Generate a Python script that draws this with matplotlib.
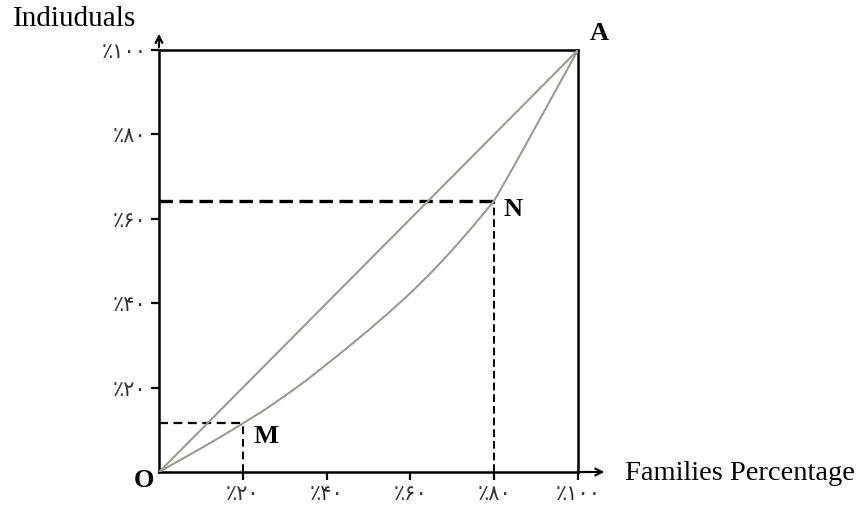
import matplotlib
matplotlib.use("Agg")
import matplotlib.pyplot as plt

# Data (percent)
families_pct = [0, 5, 10, 15, 20, 25, 30, 35, 40, 45, 50, 55, 60, 65, 70, 75, 80, 85, 90, 95, 100]
individuals_pct = [0, 2.8, 5.6, 8.5, 11.5, 14.6, 18, 21.6, 25.5, 29.5, 33.6, 37.9, 42.4,
                   47.3, 52.6, 58.3, 64.3, 73, 82, 91, 100]
equality_x = [0, 100]
equality_y = [0, 100]
point_M = (20, 11.5)
point_N = (80, 64.3)
tick_values = [20, 40, 60, 80, 100]
tick_labels = ["٪۲۰", "٪۴۰", "٪۶۰", "٪۸۰", "٪۱۰۰"]

W, H = 866, 508
fig = plt.figure(figsize=(W / 100, H / 100), dpi=100)
ax = fig.add_axes([159 / W, 36 / H, 419 / W, 422 / H])
ax.set_xlim(0, 100)
ax.set_ylim(0, 100)

serif = ["Liberation Serif", "DejaVu Serif"]

for s in ax.spines.values():
    s.set_linewidth(1.8)
    s.set_color("black")

# equality line & Lorenz curve
ax.plot(equality_x, equality_y, color="#9b9b93", lw=1.5, zorder=3)
ax.plot(families_pct, individuals_pct, color="#9b9b93", lw=1.5, zorder=3,
        solid_joinstyle="round")

# dashed guides
mx, my = point_M
nx, ny = point_N
ax.plot([0, mx], [my, my], color="black", lw=1.6, ls=(0, (4, 2.5)), zorder=2)
ax.plot([mx, mx], [0, my], color="black", lw=1.4, ls=(0, (4, 2.5)), zorder=2)
ax.plot([0, nx], [ny, ny], color="black", lw=2.4, ls=(0, (4, 2)), zorder=2)
ax.plot([nx, nx], [0, ny], color="black", lw=1.4, ls=(0, (4, 2)), zorder=2)

# axis arrows
ax.annotate("", xy=(107, 0), xytext=(100, 0),
            arrowprops=dict(arrowstyle="->", lw=1.6, color="black", mutation_scale=12),
            annotation_clip=False)
ax.annotate("", xy=(0, 104.5), xytext=(0, 100),
            arrowprops=dict(arrowstyle="->", lw=1.6, color="black", mutation_scale=12),
            annotation_clip=False)

# ticks
ax.set_xticks(tick_values)
ax.set_yticks(tick_values)
ax.set_xticklabels(tick_labels, family=["DejaVu Sans"], fontsize=15, color="#333333")
ax.set_yticklabels(tick_labels, family=["DejaVu Sans"], fontsize=15, color="#333333")
ax.tick_params(axis="both", direction="out", length=6, width=1.6, pad=3)

# point labels
lab = dict(family=serif, fontweight="bold", fontsize=19, va="center", ha="center", clip_on=False)
ax.text(25.5, 8.3, "M", **lab)
ax.text(84.5, 62.1, "N", **lab)
ax.text(105, 103.8, "A", **lab)
ax.text(-3.6, -1.9, "O", **lab)

# axis titles
fig.text(13 / W, 1 - 19 / H, "Indiuduals", family=serif, fontsize=21, va="center", ha="left")
fig.text(625 / W, 1 - 473 / H, "Families Percentage", family=serif, fontsize=20.5, va="center", ha="left")

fig.savefig("out.png", dpi=100)
